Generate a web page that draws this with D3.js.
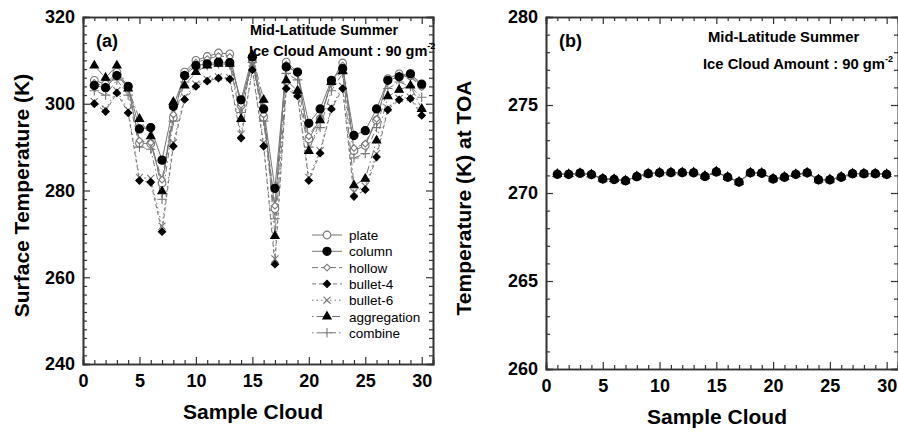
<!DOCTYPE html>
<html>
<head>
<meta charset="utf-8">
<script src="https://cdn.jsdelivr.net/npm/d3@7"></script>
<style>
body { margin: 0; background: #fff; }
svg { display: block; font-family: "Liberation Sans", Arial, sans-serif; }
</style>
</head>
<body>
<svg id="chart" width="898" height="432"></svg>
<script>
// sample cloud numbers
var samples = d3.range(1, 31);
var seriesNames = ["plate", "column", "hollow", "bullet-4", "bullet-6", "aggregation", "combine"];

// (a) surface temperature (K)
var plateSfc = [305.4, 304.5, 307.3, 304.0, 290.9, 290.8, 281.7, 296.8, 307.3, 310.0, 310.9, 311.7, 311.5, 299.6, 310.0, 296.9, 275.8, 309.6, 307.3, 291.9, 296.5, 305.0, 309.4, 289.2, 290.4, 296.2, 305.8, 306.9, 306.5, 304.2];
var columnSfc = [304.2, 303.7, 306.5, 304.0, 294.2, 294.5, 287.0, 299.4, 306.5, 308.8, 309.2, 309.6, 309.5, 300.9, 310.8, 298.8, 280.5, 308.5, 307.3, 295.5, 298.8, 305.4, 308.1, 292.7, 293.8, 298.8, 305.4, 306.2, 306.9, 304.5];
var hollowSfc = [304.8, 304.0, 306.8, 303.5, 291.5, 291.0, 282.5, 297.5, 306.8, 309.5, 310.3, 311.0, 310.8, 299.8, 309.8, 297.5, 276.5, 309.0, 307.0, 292.5, 296.8, 304.8, 308.8, 289.8, 290.8, 296.5, 305.2, 306.5, 306.2, 303.8];
var bullet4Sfc = [300.0, 298.2, 302.5, 297.9, 282.3, 281.9, 270.5, 290.2, 301.0, 304.0, 305.2, 305.9, 305.7, 292.1, 307.8, 290.2, 263.0, 303.5, 301.8, 282.3, 288.6, 298.8, 303.5, 278.6, 280.2, 287.7, 298.6, 300.9, 301.2, 297.3];
var bullet6Sfc = [300.5, 298.8, 303.0, 298.5, 283.0, 282.8, 271.8, 291.0, 301.5, 304.5, 305.6, 306.2, 306.0, 293.0, 308.0, 291.0, 264.2, 304.0, 302.2, 283.0, 289.2, 299.2, 304.0, 279.6, 281.0, 288.5, 299.0, 301.2, 301.5, 298.0];
var aggregationSfc = [308.8, 306.0, 308.8, 303.5, 296.5, 292.5, 279.8, 300.4, 304.2, 307.3, 308.8, 309.2, 309.2, 296.5, 311.2, 300.9, 269.5, 305.4, 303.0, 289.1, 296.2, 305.0, 307.5, 281.2, 282.7, 291.5, 301.7, 303.2, 304.2, 298.8];
var combineSfc = [303.0, 302.0, 305.5, 302.0, 290.0, 289.5, 278.0, 296.0, 305.0, 308.0, 308.8, 309.2, 309.0, 298.0, 309.5, 296.0, 273.5, 307.0, 305.5, 290.0, 294.5, 303.0, 307.0, 287.5, 288.5, 294.5, 303.5, 305.0, 304.0, 301.5];

// (b) temperature at TOA (K)
var plateToa = [271.08, 271.06, 271.12, 271.06, 270.82, 270.78, 270.70, 270.94, 271.10, 271.15, 271.16, 271.16, 271.16, 270.96, 271.20, 270.90, 270.62, 271.15, 271.13, 270.82, 270.90, 271.06, 271.15, 270.76, 270.76, 270.90, 271.10, 271.10, 271.10, 271.06];
var columnToa = [271.06, 271.06, 271.13, 271.05, 270.80, 270.77, 270.70, 270.93, 271.10, 271.15, 271.16, 271.16, 271.15, 270.94, 271.20, 270.90, 270.62, 271.15, 271.13, 270.80, 270.90, 271.06, 271.15, 270.75, 270.75, 270.90, 271.10, 271.10, 271.10, 271.06];
var hollowToa = [271.07, 271.05, 271.12, 271.05, 270.81, 270.78, 270.71, 270.94, 271.09, 271.14, 271.15, 271.15, 271.15, 270.95, 271.19, 270.90, 270.63, 271.14, 271.12, 270.81, 270.91, 271.05, 271.14, 270.76, 270.76, 270.91, 271.09, 271.09, 271.09, 271.05];
var bullet4Toa = [271.04, 271.04, 271.10, 271.03, 270.78, 270.75, 270.68, 270.92, 271.08, 271.13, 271.14, 271.14, 271.14, 270.92, 271.18, 270.88, 270.60, 271.13, 271.11, 270.78, 270.88, 271.04, 271.13, 270.73, 270.73, 270.88, 271.08, 271.08, 271.08, 271.03];
var bullet6Toa = [271.05, 271.05, 271.11, 271.04, 270.79, 270.76, 270.69, 270.93, 271.09, 271.14, 271.15, 271.15, 271.15, 270.93, 271.19, 270.89, 270.61, 271.14, 271.12, 270.79, 270.89, 271.05, 271.14, 270.74, 270.74, 270.89, 271.09, 271.09, 271.09, 271.04];
var aggregationToa = [271.08, 271.07, 271.13, 271.06, 270.82, 270.79, 270.71, 270.95, 271.11, 271.16, 271.17, 271.17, 271.17, 270.97, 271.22, 270.91, 270.64, 271.16, 271.14, 270.82, 270.92, 271.07, 271.16, 270.77, 270.77, 270.92, 271.11, 271.11, 271.11, 271.07];
var combineToa = [271.06, 271.05, 271.12, 271.05, 270.80, 270.77, 270.70, 270.93, 271.10, 271.14, 271.15, 271.15, 271.15, 270.94, 271.19, 270.89, 270.62, 271.14, 271.12, 270.80, 270.90, 271.05, 271.14, 270.75, 270.75, 270.90, 271.09, 271.09, 271.09, 271.05];

var sfcData = [plateSfc, columnSfc, hollowSfc, bullet4Sfc, bullet6Sfc, aggregationSfc, combineSfc];
var toaData = [plateToa, columnToa, hollowToa, bullet4Toa, bullet6Toa, aggregationToa, combineToa];

// line and marker look for each habit
var styles = [
  { dash: null, marker: "circle", fill: "#fff", stroke: "#777", size: 46 },
  { dash: null, marker: "circle", fill: "#000", stroke: "#000", size: 52 },
  { dash: "6,3", marker: "diamond", fill: "#fff", stroke: "#777", size: 22 },
  { dash: "4,3", marker: "diamond", fill: "#000", stroke: "#000", size: 26 },
  { dash: "1.5,3", marker: "cross", fill: "none", stroke: "#777", size: 26 },
  { dash: "1.5,3,8,3", marker: "triangle", fill: "#000", stroke: "#000", size: 30 },
  { dash: "1.5,3,6,3", marker: "plus", fill: "none", stroke: "#777", size: 30 }
];
// open marks underneath, solid black marks on top
var drawOrder = [0, 2, 4, 6, 1, 3, 5];

var svg = d3.select("#chart");
var axisColor = "#333";

function marker(g, st, x, y) {
  if (st.marker == "cross" || st.marker == "plus") {
    var s = Math.sqrt(st.size) / 2 + 1;
    var p = st.marker == "cross"
      ? "M" + (x - s) + "," + (y - s) + "L" + (x + s) + "," + (y + s) + "M" + (x - s) + "," + (y + s) + "L" + (x + s) + "," + (y - s)
      : "M" + (x - s - 1) + "," + y + "L" + (x + s + 1) + "," + y + "M" + x + "," + (y - s - 1) + "L" + x + "," + (y + s + 1);
    g.append("path").attr("d", p).attr("stroke", st.stroke).attr("stroke-width", 1.1).attr("fill", "none");
    return;
  }
  var type = st.marker == "circle" ? d3.symbolCircle : st.marker == "diamond" ? d3.symbolSquare : d3.symbolTriangle;
  var rot = st.marker == "diamond" ? " rotate(45)" : "";
  g.append("path")
    .attr("d", d3.symbol().type(type).size(st.size)())
    .attr("transform", "translate(" + x + "," + y + ")" + rot)
    .attr("fill", st.fill).attr("stroke", st.stroke).attr("stroke-width", 1.1);
}

function drawPanel(opt) {
  var x = d3.scaleLinear().domain([0, 31]).range([opt.left, opt.right]);
  var y = d3.scaleLinear().domain(opt.yDomain).range([opt.bottom, opt.top]);
  var g = svg.append("g");

  // series lines first, markers over them
  var line = d3.line().x(function(d, i) { return x(samples[i]); }).y(function(d) { return y(d); });
  opt.data.forEach(function(vals, k) {
    g.append("path").datum(vals).attr("d", line)
      .attr("fill", "none").attr("stroke", "#777").attr("stroke-width", 1)
      .attr("stroke-dasharray", styles[k].dash);
  });
  drawOrder.forEach(function(k) {
    opt.data[k].forEach(function(v, i) { marker(g, styles[k], x(samples[i]), y(v)); });
  });

  // axes with inward ticks on all four sides
  var xMajor = d3.range(0, 31, 5), xMinor = d3.range(0, 32, 1).filter(function(v) { return v % 5; });
  var yMajor = d3.range(opt.yDomain[0], opt.yDomain[1] + 0.1, opt.yStep);
  var yMinor = d3.range(opt.yDomain[0], opt.yDomain[1] + 0.1, opt.yMinor).filter(function(v) { return yMajor.indexOf(v) < 0; });

  var bottomAx = d3.axisBottom(x).tickValues(xMajor).tickSize(-7).tickPadding(10).tickFormat(d3.format("d"));
  var topAx = d3.axisTop(x).tickValues(xMajor).tickSize(-7).tickFormat("");
  var leftAx = d3.axisLeft(y).tickValues(yMajor).tickSize(-7).tickPadding(10).tickFormat(d3.format("d"));
  var rightAx = d3.axisRight(y).tickValues(yMajor).tickSize(-7).tickFormat("");

  var gb = g.append("g").attr("transform", "translate(0," + opt.bottom + ")").call(bottomAx);
  g.append("g").attr("transform", "translate(0," + opt.top + ")").call(topAx);
  var gl = g.append("g").attr("transform", "translate(" + opt.left + ",0)").call(leftAx);
  g.append("g").attr("transform", "translate(" + opt.right + ",0)").call(rightAx);
  g.append("g").attr("transform", "translate(0," + opt.bottom + ")").call(d3.axisBottom(x).tickValues(xMinor).tickSize(-4).tickFormat(""));
  g.append("g").attr("transform", "translate(0," + opt.top + ")").call(d3.axisTop(x).tickValues(xMinor).tickSize(-4).tickFormat(""));
  g.append("g").attr("transform", "translate(" + opt.left + ",0)").call(d3.axisLeft(y).tickValues(yMinor).tickSize(-4).tickFormat(""));
  g.append("g").attr("transform", "translate(" + opt.right + ",0)").call(d3.axisRight(y).tickValues(yMinor).tickSize(-4).tickFormat(""));

  g.selectAll(".domain").attr("stroke", axisColor).attr("stroke-width", 1.6);
  g.selectAll(".tick line").attr("stroke", axisColor).attr("stroke-width", 1.2);
  g.selectAll(".tick text").attr("fill", "#000").style("font-size", "18px").style("font-weight", "bold")
    .style("font-family", "'Liberation Sans', Arial, sans-serif");
  gb.selectAll(".tick text").attr("dy", "0.72em");
  gl.selectAll(".tick text").attr("dx", "2");

  // axis titles
  g.append("text").attr("x", (opt.left + opt.right) / 2 - 5).attr("y", opt.bottom + 55)
    .attr("text-anchor", "middle").style("font-size", "21px").style("font-weight", "bold").text("Sample Cloud");
  g.append("text").attr("transform", "translate(" + opt.yTitleX + "," + ((opt.top + opt.bottom) / 2 + 5) + ") rotate(-90)")
    .attr("text-anchor", "middle").style("font-size", "21px").style("font-weight", "bold").text(opt.yTitle);

  // panel tag and notes
  g.append("text").attr("x", opt.left + 13).attr("y", opt.top + 30)
    .style("font-size", "18px").style("font-weight", "bold").text(opt.tag);
  g.append("text").attr("x", opt.noteX1).attr("y", opt.noteY1)
    .style("font-size", opt.noteSize).style("font-weight", "bold").text("Mid-Latitude Summer");
  var note = g.append("text").attr("x", opt.noteX2).attr("y", opt.noteY2)
    .style("font-size", opt.noteSize).style("font-weight", "bold").text("Ice Cloud Amount : 90 gm");
  note.append("tspan").attr("dy", "-7").style("font-size", "9px").text("-2");
  return { x: x, y: y, g: g };
}

var panelA = drawPanel({
  left: 83, right: 433, top: 17, bottom: 364, yDomain: [240, 320], yStep: 20, yMinor: 2,
  data: sfcData, tag: "(a)", yTitle: "Surface Temperature (K)", yTitleX: 29,
  noteX1: 250, noteY1: 35, noteX2: 249, noteY2: 56, noteSize: "14.5px"
});

var panelB = drawPanel({
  left: 546, right: 898, top: 17, bottom: 369, yDomain: [260, 280], yStep: 5, yMinor: 1,
  data: toaData, tag: "(b)", yTitle: "Temperature (K) at TOA", yTitleX: 471,
  noteX1: 708, noteY1: 42, noteX2: 703, noteY2: 69, noteSize: "14.8px"
});

// legend in panel (a)
var legend = panelA.g.append("g").attr("transform", "translate(312,235)");
seriesNames.forEach(function(name, k) {
  var row = legend.append("g").attr("transform", "translate(0," + (k * 16.3) + ")");
  row.append("line").attr("x1", 0).attr("x2", 30).attr("y1", 0).attr("y2", 0)
    .attr("stroke", "#777").attr("stroke-width", 1).attr("stroke-dasharray", styles[k].dash);
  marker(row, styles[k], 15, 0);
  row.append("text").attr("x", 37).attr("y", 5).style("font-size", "13.5px").text(name);
});
</script>
</body>
</html>
